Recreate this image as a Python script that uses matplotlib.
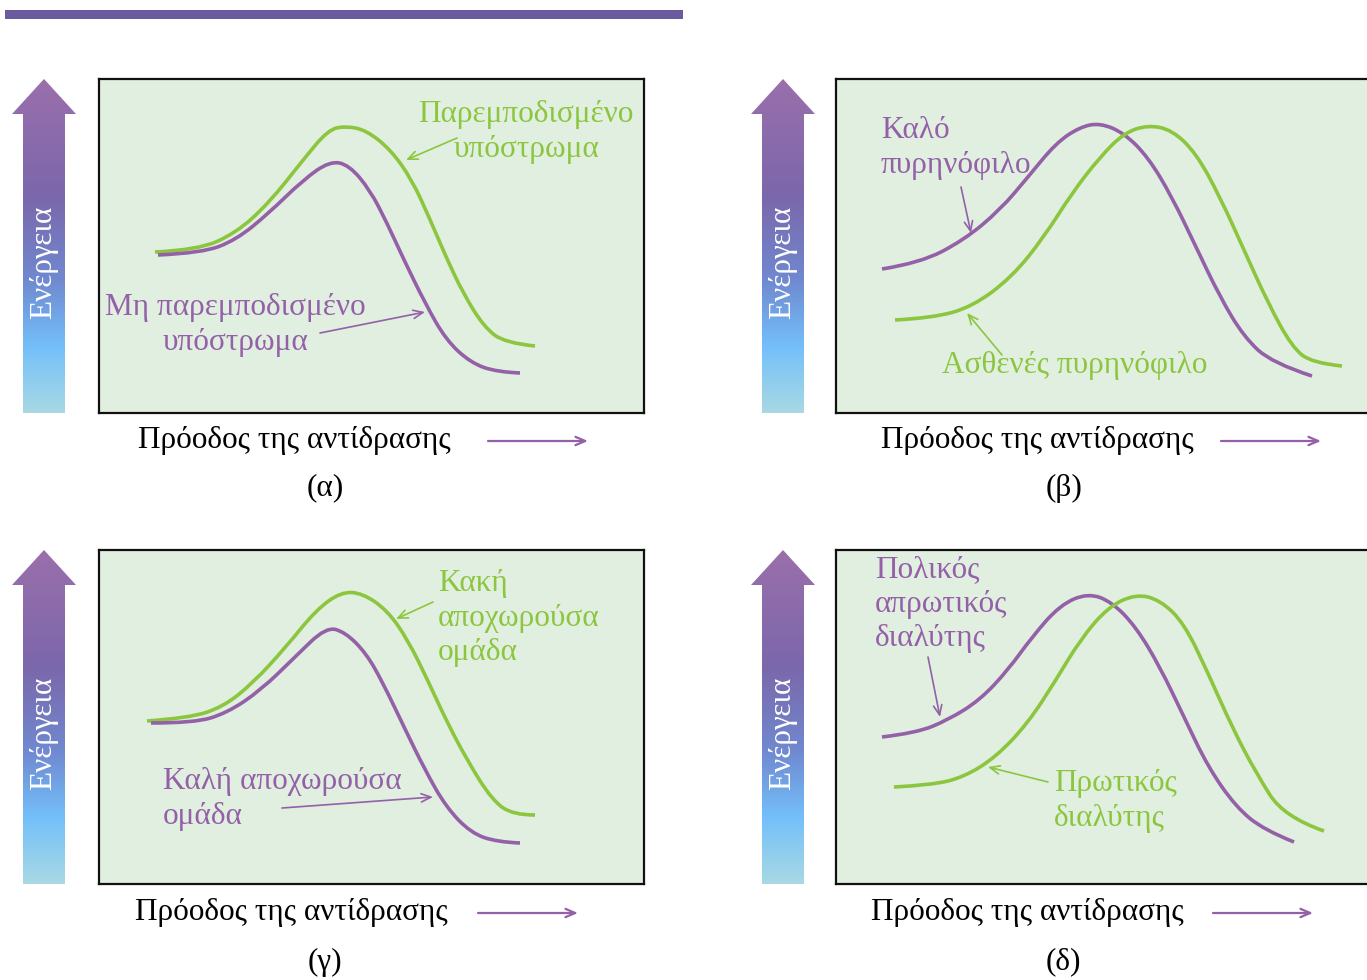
import matplotlib
matplotlib.use("Agg")
import matplotlib.pyplot as plt
import numpy as np
from matplotlib.path import Path
from matplotlib.patches import PathPatch, Polygon, Rectangle
from matplotlib.colors import LinearSegmentedColormap

plt.rcParams['font.family'] = ['Liberation Serif', 'DejaVu Serif']

GREEN = '#8cc63f'
PURPLE = '#9460a8'
PANEL_BG = '#e0efdf'
FS = 22.5
LS = 1.24

# ---- curve data (reaction progress, energy) per panel ----
a_green_x = [56, 99, 137, 170, 204, 229, 246, 267, 292, 313, 330, 347, 364, 385, 406, 436]
a_green_e = [161, 163, 180, 210, 253, 283, 287, 283, 263, 233, 196, 156, 120, 86, 70, 67]
a_purple_x = [59, 103, 137, 170, 204, 231, 250, 271, 288, 305, 326, 347, 372, 398, 421]
a_purple_e = [158, 160, 173, 200, 233, 252, 248, 223, 190, 153, 110, 73, 50, 41, 40]

b_purple_x = [46, 84, 128, 164, 192, 220, 244, 264, 288, 312, 336, 360, 384, 408, 436, 476]
b_purple_e = [144, 150, 173, 203, 236, 270, 286, 290, 280, 256, 216, 166, 116, 76, 50, 37]
b_green_x = [59, 96, 136, 176, 208, 236, 264, 288, 312, 336, 360, 384, 408, 432, 456, 476, 506]
b_green_e = [93, 95, 106, 136, 176, 220, 256, 280, 288, 283, 260, 216, 163, 110, 66, 50, 47]

c_green_x = [48, 90, 124, 154, 187, 217, 242, 263, 288, 309, 330, 347, 368, 393, 414, 436]
c_green_e = [163, 166, 177, 201, 237, 274, 292, 291, 274, 244, 201, 164, 124, 84, 69, 69]
c_purple_x = [52, 95, 128, 162, 196, 227, 246, 267, 284, 305, 326, 347, 372, 398, 421]
c_purple_e = [161, 161, 171, 194, 227, 257, 252, 231, 201, 157, 114, 77, 51, 42, 41]

d_purple_x = [46, 80, 112, 144, 172, 196, 224, 252, 276, 300, 324, 348, 372, 400, 428, 458]
d_purple_e = [147, 151, 164, 184, 214, 247, 279, 291, 282, 257, 217, 167, 117, 77, 54, 42]
d_green_x = [58, 96, 128, 160, 192, 220, 244, 272, 300, 324, 348, 372, 396, 420, 448, 488]
d_green_e = [97, 99, 107, 127, 161, 204, 244, 277, 290, 284, 261, 211, 157, 111, 67, 53]

x_label = 'Πρόοδος της αντίδρασης'
y_label = 'Ενέργεια'
panel_tags = ['(α)', '(β)', '(γ)', '(δ)']

W, H = 1367, 980
fig = plt.figure(figsize=(W / 100, H / 100), dpi=100)
fig.patch.set_facecolor('white')

bg = fig.add_axes([0, 0, 1, 1])
bg.set_xlim(0, W)
bg.set_ylim(H, 0)
bg.axis('off')

# top bar
bg.add_patch(Rectangle((5, 10), 678, 9, color='#6a5aa0', lw=0))

grad_cmap = LinearSegmentedColormap.from_list(
    'energy', [(0.0, '#9b6fac'), (0.35, '#7b67ab'), (0.6, '#7088cf'),
               (0.8, '#73bffa'), (1.0, '#a8d9e4')])


def energy_arrow(dx, dy):
    pts = [(23 + dx, 413 + dy), (23 + dx, 114 + dy), (12 + dx, 114 + dy),
           (44 + dx, 79 + dy), (76 + dx, 114 + dy), (65 + dx, 114 + dy),
           (65 + dx, 413 + dy)]
    poly = Polygon(pts, closed=True, facecolor='none', edgecolor='none')
    bg.add_patch(poly)
    grad = np.linspace(0, 1, 256).reshape(-1, 1)
    im = bg.imshow(grad, cmap=grad_cmap, aspect='auto',
                   extent=[12 + dx, 76 + dx, 413 + dy, 79 + dy], zorder=2)
    im.set_clip_path(poly)
    bg.text(44 + dx, 262 + dy, y_label, rotation=90, color='white',
            fontsize=FS, ha='center', va='center', zorder=3)


def smooth_line(ax, xs, ys, color):
    # quadratic bezier through midpoints of the read points
    pts = np.column_stack([xs, ys]).astype(float)
    verts = [tuple(pts[0])]
    codes = [Path.MOVETO]
    for i in range(1, len(pts) - 1):
        mid = (pts[i] + pts[i + 1]) / 2
        if i == len(pts) - 2:
            mid = pts[i + 1]
        verts += [tuple(pts[i]), tuple(mid)]
        codes += [Path.CURVE3, Path.CURVE3]
    ax.add_patch(PathPatch(Path(verts, codes), facecolor='none',
                           edgecolor=color, lw=2.6, capstyle='butt'))


def panel(x0, y0):
    ax = fig.add_axes([x0 / W, 1 - (y0 + 334) / H, 545 / W, 334 / H])
    ax.set_xlim(0, 545)
    ax.set_ylim(0, 334)
    ax.set_facecolor(PANEL_BG)
    ax.set_xticks([])
    ax.set_yticks([])
    for s in ax.spines.values():
        s.set_linewidth(1.6)
        s.set_color('#111111')
    return ax


def note(ax, x, y, text, color, ha='left'):
    ax.text(x, y, text, color=color, fontsize=FS, ha=ha, va='center',
            linespacing=LS)


def pointer(ax, start, end, color):
    ax.annotate('', xy=end, xytext=start,
                arrowprops=dict(arrowstyle='->,head_length=0.7,head_width=0.3',
                                color=color, lw=1.2, shrinkA=0, shrinkB=0))


def bottom(dy, text_x, arr_x0, tag_x, tag_y, tag):
    bg.text(text_x, 440 + dy, x_label, fontsize=FS, ha='left', va='center')
    bg.annotate('', xy=(arr_x0 + 100, 441 + dy), xytext=(arr_x0, 441 + dy),
                arrowprops=dict(arrowstyle='->,head_length=0.7,head_width=0.3',
                                color=PURPLE, lw=1.6, shrinkA=0, shrinkB=0))
    bg.text(tag_x, tag_y, tag, fontsize=FS, ha='center', va='center')


# ---- panel (α) ----
energy_arrow(0, 0)
ax = panel(99, 79)
smooth_line(ax, a_green_x, a_green_e, GREEN)
smooth_line(ax, a_purple_x, a_purple_e, PURPLE)
note(ax, 427, 281, 'Παρεμποδισμένο\nυπόστρωμα', GREEN, ha='center')
pointer(ax, (358, 275), (307, 253), GREEN)
note(ax, 136, 88, 'Μη παρεμποδισμένο\nυπόστρωμα', PURPLE, ha='center')
pointer(ax, (221, 80), (326, 101), PURPLE)
bottom(0, 138, 488, 325, 488, panel_tags[0])

# ---- panel (β) ----
energy_arrow(739, 0)
ax = panel(836, 79)
smooth_line(ax, b_purple_x, b_purple_e, PURPLE)
smooth_line(ax, b_green_x, b_green_e, GREEN)
note(ax, 45, 265, 'Καλό\nπυρηνόφιλο', PURPLE)
pointer(ax, (125, 226), (135, 180), PURPLE)
note(ax, 106, 48, 'Ασθενές πυρηνόφιλο', GREEN)
pointer(ax, (166, 58), (131, 100), GREEN)
bottom(0, 881, 1221, 1064, 488, panel_tags[1])

# ---- panel (γ) ----
energy_arrow(0, 471)
ax = panel(99, 550)
smooth_line(ax, c_green_x, c_green_e, GREEN)
smooth_line(ax, c_purple_x, c_purple_e, PURPLE)
note(ax, 339, 266, 'Κακή\nαποχωρούσα\nομάδα', GREEN)
pointer(ax, (334, 282), (297, 265), GREEN)
note(ax, 64, 85, 'Καλή αποχωρούσα\nομάδα', PURPLE)
pointer(ax, (183, 76), (334, 87), PURPLE)
bottom(472, 135, 478, 325, 962, panel_tags[2])

# ---- panel (δ) ----
energy_arrow(739, 471)
ax = panel(836, 550)
smooth_line(ax, d_purple_x, d_purple_e, PURPLE)
smooth_line(ax, d_green_x, d_green_e, GREEN)
note(ax, 39, 280, 'Πολικός\nαπρωτικός\nδιαλύτης', PURPLE)
pointer(ax, (92, 227), (104, 167), PURPLE)
note(ax, 218, 83, 'Πρωτικός\nδιαλύτης', GREEN)
pointer(ax, (212, 102), (152, 117), GREEN)
bottom(472, 871, 1213, 1063, 962, panel_tags[3])

fig.savefig('out.png', dpi=100)
